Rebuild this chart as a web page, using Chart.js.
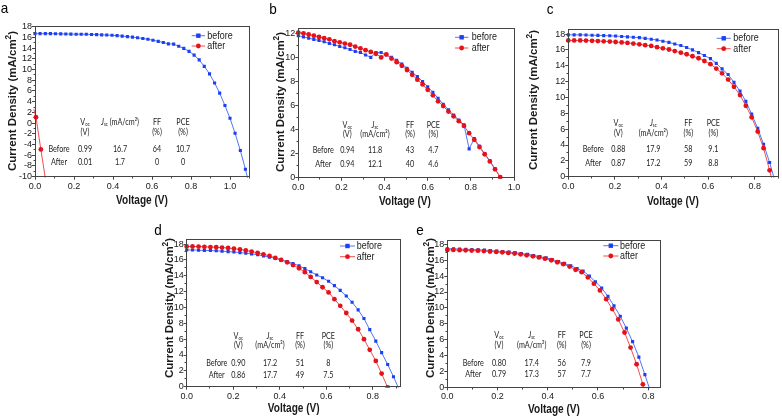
<!DOCTYPE html>
<html>
<head>
<meta charset="utf-8">
<script src="https://cdn.jsdelivr.net/npm/chart.js@4.4.1/dist/chart.umd.min.js"></script>
<style>
  html, body { margin: 0; padding: 0; background: #fff; }
  #wrap { position: relative; width: 782px; height: 417px; }
  #wrap canvas { position: absolute; left: 0; top: 0; }
</style>
</head>
<body>
<div id="wrap">
  <canvas id="pa" width="782" height="417"></canvas>
  <canvas id="pb" width="782" height="417"></canvas>
  <canvas id="pc" width="782" height="417"></canvas>
  <canvas id="pd" width="782" height="417"></canvas>
  <canvas id="pe" width="782" height="417"></canvas>
</div>
<script>
// === Datos ===
// (a)
const voltA_before = [0, 0.026, 0.053, 0.079, 0.105, 0.132, 0.158, 0.184, 0.211, 0.237, 0.263, 0.29, 0.316, 0.342, 0.368, 0.395, 0.421, 0.447, 0.474, 0.5, 0.526, 0.553, 0.579, 0.605, 0.632, 0.658, 0.684, 0.711, 0.737, 0.763, 0.79, 0.816, 0.842, 0.868, 0.895, 0.921, 0.947, 0.974, 1.0, 1.026, 1.053, 1.079, 1.105];
const jA_before = [16.7, 16.7, 16.7, 16.7, 16.68, 16.66, 16.64, 16.62, 16.6, 16.6, 16.58, 16.55, 16.52, 16.48, 16.44, 16.4, 16.33, 16.25, 16.15, 16.05, 15.93, 15.8, 15.65, 15.47, 15.27, 15.05, 14.8, 14.75, 14.35, 13.95, 13.4, 12.7, 11.8, 10.6, 9.2, 7.5, 5.6, 3.3, 0.9, -1.9, -5.1, -8.6, -12.4];
const voltA_after = [-0.006, 0.005, 0.03, 0.056];
const jA_after = [2.6, 1.1, -4.9, -11.0];
const tableA = [["0.99", "16.7", "64", "10.7"], ["0.01", "1.7", "0", "0"]];

// (b)
const voltB = [0, 0.024, 0.048, 0.072, 0.096, 0.12, 0.144, 0.168, 0.192, 0.216, 0.24, 0.264, 0.288, 0.312, 0.336, 0.36, 0.384, 0.408, 0.432, 0.456, 0.48, 0.504, 0.528, 0.552, 0.576, 0.6, 0.624, 0.648, 0.672, 0.696, 0.72, 0.744, 0.768, 0.792, 0.816, 0.84, 0.864, 0.888, 0.912, 0.936];
const jB_before = [11.8, 11.7, 11.6, 11.5, 11.4, 11.3, 11.15, 11.05, 10.9, 10.8, 10.65, 10.5, 10.4, 10.2, 10.0, 10.4, 10.4, 10.2, 10.0, 9.75, 9.45, 9.1, 8.75, 8.4, 8.0, 7.55, 7.1, 6.6, 6.1, 5.65, 5.2, 4.8, 4.4, 2.4, 3.25, 2.6, 2.0, 1.4, 0.75, 0.05];
const jB_after = [12.05, 12.0, 11.9, 11.8, 11.7, 11.6, 11.5, 11.35, 11.25, 11.15, 11.05, 10.9, 10.75, 10.6, 10.45, 10.3, 10.0, 10.25, 9.9, 9.6, 9.3, 8.95, 8.55, 8.15, 7.75, 7.3, 6.85, 6.35, 5.95, 5.5, 5.1, 4.7, 4.3, 3.7, 3.15, 2.55, 1.95, 1.35, 0.7, 0.05];
const tableB = [["0.94", "11.8", "43", "4.7"], ["0.94", "12.1", "40", "4.6"]];

// (c)
const voltC = [0, 0.025, 0.051, 0.076, 0.102, 0.127, 0.152, 0.178, 0.203, 0.229, 0.254, 0.279, 0.305, 0.33, 0.356, 0.381, 0.406, 0.432, 0.457, 0.483, 0.508, 0.533, 0.559, 0.584, 0.61, 0.635, 0.66, 0.686, 0.711, 0.737, 0.762, 0.787, 0.813, 0.838, 0.864, 0.889];
const jC_before = [17.9, 17.9, 17.9, 17.88, 17.85, 17.83, 17.8, 17.78, 17.75, 17.7, 17.65, 17.6, 17.55, 17.45, 17.35, 17.25, 17.1, 16.95, 16.75, 16.55, 16.3, 16.0, 15.65, 15.3, 14.9, 14.3, 13.6, 12.9, 11.9, 10.8, 9.5, 7.9, 6.1, 4.1, 1.8, -0.8];
const jC_after = [17.2, 17.2, 17.2, 17.18, 17.15, 17.12, 17.08, 17.05, 17.0, 16.95, 16.88, 16.8, 16.7, 16.6, 16.5, 16.35, 16.2, 16.05, 15.85, 15.65, 15.45, 15.2, 14.95, 14.6, 14.2, 13.65, 13.05, 12.25, 11.35, 10.3, 8.95, 7.5, 5.7, 3.6, 0.8, -2.2];
const tableC = [["0.88", "17.9", "58", "9.1"], ["0.87", "17.2", "59", "8.8"]];

// (d)
const voltD_before = [0, 0.025, 0.051, 0.076, 0.102, 0.127, 0.152, 0.178, 0.203, 0.229, 0.254, 0.279, 0.305, 0.33, 0.356, 0.381, 0.406, 0.432, 0.457, 0.483, 0.508, 0.533, 0.559, 0.584, 0.61, 0.635, 0.66, 0.686, 0.711, 0.737, 0.762, 0.787, 0.813, 0.838, 0.864, 0.889, 0.914];
const jD_before = [17.25, 17.25, 17.22, 17.2, 17.18, 17.15, 17.1, 17.05, 17.0, 16.92, 16.85, 16.75, 16.65, 16.5, 16.35, 16.2, 16.0, 15.8, 15.55, 15.25, 14.9, 14.5, 14.1, 13.75, 13.3, 12.75, 12.15, 11.45, 10.65, 9.7, 8.6, 7.2, 5.75, 4.3, 2.8, 1.25, -0.4];
const voltD_after = [0, 0.025, 0.051, 0.076, 0.102, 0.127, 0.152, 0.178, 0.203, 0.229, 0.254, 0.279, 0.305, 0.33, 0.356, 0.381, 0.406, 0.432, 0.457, 0.483, 0.508, 0.533, 0.559, 0.584, 0.61, 0.635, 0.66, 0.686, 0.711, 0.737, 0.762, 0.787, 0.813, 0.838, 0.864];
const jD_after = [17.7, 17.7, 17.68, 17.65, 17.62, 17.6, 17.55, 17.5, 17.42, 17.32, 17.2, 17.05, 16.88, 16.7, 16.5, 16.25, 16.0, 15.7, 15.35, 14.95, 14.45, 13.85, 13.2, 12.55, 11.9, 11.05, 10.2, 9.3, 8.35, 7.25, 6.0, 4.65, 3.25, 1.65, -0.1];
const tableD = [["0.90", "17.2", "51", "8"], ["0.86", "17.7", "49", "7.5"]];

// (e)
const voltE_before = [0, 0.025, 0.049, 0.074, 0.098, 0.123, 0.148, 0.172, 0.197, 0.221, 0.246, 0.271, 0.295, 0.32, 0.344, 0.369, 0.394, 0.418, 0.443, 0.467, 0.492, 0.517, 0.541, 0.566, 0.59, 0.615, 0.64, 0.664, 0.689, 0.713, 0.738, 0.763, 0.787, 0.812];
const jE_before = [17.45, 17.45, 17.4, 17.38, 17.35, 17.32, 17.28, 17.22, 17.15, 17.1, 17.02, 16.95, 16.85, 16.75, 16.6, 16.45, 16.3, 16.1, 15.85, 15.6, 15.3, 14.95, 14.65, 14.0, 13.3, 12.5, 11.45, 10.25, 8.95, 7.45, 5.75, 3.8, 1.6, -0.8];
const voltE_after = [0, 0.024, 0.049, 0.073, 0.097, 0.122, 0.146, 0.17, 0.195, 0.219, 0.243, 0.268, 0.292, 0.316, 0.341, 0.365, 0.389, 0.414, 0.438, 0.462, 0.487, 0.511, 0.535, 0.56, 0.584, 0.608, 0.633, 0.657, 0.681, 0.706, 0.73, 0.754, 0.779, 0.803];
const jE_after = [17.3, 17.3, 17.27, 17.25, 17.22, 17.2, 17.15, 17.1, 17.05, 17.0, 16.92, 16.85, 16.75, 16.62, 16.5, 16.35, 16.2, 16.0, 15.75, 15.5, 15.2, 14.8, 14.5, 13.85, 13.05, 12.2, 11.1, 9.85, 8.55, 6.9, 5.0, 2.9, 0.38, -2.3];
const tableE = [["0.80", "17.4", "56", "7.9"], ["0.79", "17.3", "57", "7.7"]];

const rowNames = ["Before", "After"];
const legendNames = ["before", "after"];

// === Estilos ===
const W = 782, H = 417;
const Y_W = 32, X_H = 22;
const AXIS = "#444";
const INK = "#1a1a1a";
const BLUE_LINE = "#4f76ff", BLUE_DOT = "#1d3ff0";
const RED_LINE = "#f44d4d", RED_DOT = "#e3121b";
const SANS = "'Liberation Sans', Arial, sans-serif";
const TABLE_FONT = "Lato, 'Open Sans', sans-serif";

// === Paneles (posiciones en pixeles de la pagina) ===
const panels = [
  { id: "pa", letter: "a", letterPos: [4.5, 13.3], area: { l: 35, t: 26.7, r: 249.5, b: 176.7 },
    x: [0, 1.1], y: [-10, 18],
    series: [[voltA_before, jA_before], [voltA_after, jA_after]], table: tableA,
    yTitle: [12.8, 101], xTitle: [142, 200.5], jscOneLine: true,
    cols: [59, 85, 120, 157, 183], rows: [122, 132, 149, 162],
    legend: { x1: 191.7, x2: 205, tx: 207.3, y: [35.7, 46] } },
  { id: "pb", letter: "b", letterPos: [273, 14], area: { l: 298.3, t: 28.5, r: 514, b: 177.7 },
    x: [0, 1.0], y: [0, 12.4],
    series: [[voltB, jB_before], [voltB, jB_after]], table: tableB,
    yTitle: [281, 102], xTitle: [405, 201.5],
    cols: [323.3, 347.3, 375, 410, 433.3], rows: [125, 134.3, 150, 164],
    legend: { x1: 455, x2: 468.3, tx: 471.7, y: [37.3, 48] } },
  { id: "pc", letter: "c", letterPos: [550, 14], area: { l: 568.3, t: 29.3, r: 779.3, b: 176.7 },
    x: [0, 0.9], y: [0, 18.6],
    series: [[voltC, jC_before], [voltC, jC_after]], table: tableC,
    yTitle: [533.5, 100], xTitle: [673, 201.5],
    cols: [593.3, 618.3, 653.3, 688.3, 713.3], rows: [122.7, 132.7, 149.3, 163.3],
    legend: { x1: 716.7, x2: 730.7, tx: 733.3, y: [38.3, 48.7] } },
  { id: "pd", letter: "d", letterPos: [158, 235], area: { l: 186.7, t: 239.3, r: 400.7, b: 386.7 },
    x: [0, 0.92], y: [0, 18.6],
    series: [[voltD_before, jD_before], [voltD_after, jD_after]], table: tableD,
    yTitle: [169.5, 308], xTitle: [293.7, 409],
    cols: [216.7, 238.3, 270, 300, 328.3], rows: [336, 345, 363.3, 375],
    legend: { x1: 340, x2: 355, tx: 356.7, y: [246, 256.7] } },
  { id: "pe", letter: "e", letterPos: [420, 235], area: { l: 447.3, t: 240, r: 660.7, b: 387.3 },
    x: [0, 0.85], y: [0, 18.55],
    series: [[voltE_before, jE_before], [voltE_after, jE_after]], table: tableE,
    yTitle: [430.5, 308], xTitle: [554, 409.5],
    cols: [473.3, 499, 531.7, 561.7, 586], rows: [335, 345, 362.7, 374.3],
    legend: { x1: 603.3, x2: 618.3, tx: 620, y: [245.7, 256] } }
];

const X_STEP = 0.2, Y_STEP = 2;

function pts(xs, ys) {
  return xs.map((x, i) => ({ x: x, y: ys[i] }));
}

function align(v) {
  return Math.round(v - 0.5) + 0.5;
}

// texto con partes (subindices / superindices)
function rich(ctx, parts, x, y, o) {
  ctx.save();
  ctx.translate(x, y);
  if (o.rot) ctx.rotate(o.rot);
  ctx.scale(o.sx || 1, 1);
  ctx.fillStyle = o.color || INK;
  ctx.textBaseline = o.baseline || "middle";
  ctx.textAlign = "left";
  const fontOf = p => (p[3] ? "italic " : "") + (o.bold ? "bold " : "") + (o.size * (p[1] || 1)) + "px " + o.family;
  let w = 0;
  parts.forEach(p => { ctx.font = fontOf(p); w += ctx.measureText(p[0]).width; });
  let cx = o.align === "left" ? 0 : -w / 2;
  parts.forEach(p => {
    ctx.font = fontOf(p);
    ctx.fillText(p[0], cx, (p[2] || 0) * o.size);
    cx += ctx.measureText(p[0]).width;
  });
  ctx.restore();
}

function marker(ctx, i, x, y) {
  if (i === 0) {
    ctx.fillStyle = BLUE_DOT;
    ctx.fillRect(x - 2.2, y - 2.2, 4.4, 4.4);
  } else {
    ctx.fillStyle = RED_DOT;
    ctx.beginPath();
    ctx.arc(x, y, 2.4, 0, Math.PI * 2);
    ctx.fill();
  }
}

function makeDecor(p) {
  return {
    id: "decor",
    afterDraw(chart) {
      const ctx = chart.ctx;
      const a = chart.chartArea;
      const xs = chart.scales.x, ys = chart.scales.y;
      ctx.save();

      // marco completo
      ctx.strokeStyle = AXIS;
      ctx.lineWidth = 1;
      const L = align(a.left), R = align(a.right), T = align(a.top), B = align(a.bottom);
      ctx.strokeRect(L, T, R - L, B - T);

      // ticks menores
      ctx.beginPath();
      for (let v = p.x[0] + X_STEP / 2; v < p.x[1]; v += X_STEP) {
        const px = align(xs.getPixelForValue(v));
        ctx.moveTo(px, B); ctx.lineTo(px, B + 2);
      }
      for (let v = p.y[0] + Y_STEP / 2; v < p.y[1]; v += Y_STEP) {
        const py = align(ys.getPixelForValue(v));
        ctx.moveTo(L - 2, py); ctx.lineTo(L, py);
      }
      ctx.stroke();

      // titulos
      rich(ctx, [["Current Density (mA/cm"], ["2", 0.72, -0.33], [")"]], p.yTitle[0], p.yTitle[1],
        { size: 11.5, bold: true, family: SANS, rot: -Math.PI / 2 });
      rich(ctx, [["Voltage (V)"]], p.xTitle[0], p.xTitle[1], { size: 12, bold: true, family: SANS, sx: 0.84 });
      rich(ctx, [[p.letter]], p.letterPos[0], p.letterPos[1], { size: 15, family: SANS, sx: 0.9, baseline: "alphabetic", color: "#000" });

      // leyenda
      const lg = p.legend;
      [BLUE_LINE, RED_LINE].forEach((col, i) => {
        const y = lg.y[i];
        ctx.strokeStyle = col;
        ctx.lineWidth = 1;
        ctx.beginPath();
        ctx.moveTo(lg.x1, y); ctx.lineTo(lg.x2, y);
        ctx.stroke();
        marker(ctx, i, (lg.x1 + lg.x2) / 2, y);
        rich(ctx, [[legendNames[i]]], lg.tx, y, { size: 10.5, family: SANS, sx: 0.85, align: "left" });
      });

      // tabla
      const tf = { size: 9, family: TABLE_FONT, sx: 0.8, color: "#222" };
      const c = p.cols, r = p.rows;
      rich(ctx, [["V"], ["oc", 0.6, 0.3]], c[1], r[0], tf);
      if (p.jscOneLine) {
        rich(ctx, [["J", 1, 0, true], ["sc", 0.6, 0.3], [" (mA/cm²)"]], c[2], r[0], tf);
      } else {
        rich(ctx, [["J", 1, 0, true], ["sc", 0.6, 0.3]], c[2], r[0], tf);
        rich(ctx, [["(mA/cm²)"]], c[2], r[1], tf);
      }
      rich(ctx, [["FF"]], c[3], r[0], tf);
      rich(ctx, [["PCE"]], c[4], r[0], tf);
      rich(ctx, [["(V)"]], c[1], r[1], tf);
      rich(ctx, [["(%)"]], c[3], r[1], tf);
      rich(ctx, [["(%)"]], c[4], r[1], tf);
      p.table.forEach((row, i) => {
        rich(ctx, [[rowNames[i]]], c[0], r[2 + i], tf);
        row.forEach((val, j) => rich(ctx, [[val]], c[1 + j], r[2 + i], tf));
      });

      ctx.restore();
    }
  };
}

function axisOpts(min, max, step, fmt, fit, pad) {
  return {
    type: "linear",
    min: min,
    max: max,
    afterFit: fit,
    ticks: {
      stepSize: step,
      includeBounds: false,
      autoSkip: false,
      maxRotation: 0,
      padding: pad,
      color: INK,
      font: { family: SANS, size: 9 },
      callback: fmt
    },
    grid: { drawOnChartArea: false, drawTicks: true, tickLength: 3, color: AXIS, lineWidth: 1 },
    border: { display: true, color: AXIS, width: 1 }
  };
}

panels.forEach(p => {
  const a = p.area;
  const sets = p.series.map((s, i) => ({
    data: pts(s[0], s[1]),
    showLine: true,
    borderColor: i === 0 ? BLUE_LINE : RED_LINE,
    borderWidth: 1,
    pointStyle: i === 0 ? "rect" : "circle",
    pointRadius: ctx => (ctx.raw && ctx.raw.x < 0 ? 0 : (i === 0 ? 2.2 : 2.4)),
    pointBackgroundColor: i === 0 ? BLUE_DOT : RED_DOT,
    pointBorderWidth: 0,
    tension: 0,
    clip: { left: 3, right: 3, top: 3, bottom: 1 },
    order: i === 0 ? 1 : 0
  }));

  new Chart(document.getElementById(p.id), {
    type: "scatter",
    data: { datasets: sets },
    options: {
      responsive: false,
      animation: false,
      events: [],
      layout: {
        padding: { left: a.l - Y_W, top: a.t, right: W - a.r, bottom: H - a.b - X_H }
      },
      plugins: { legend: { display: false }, tooltip: { enabled: false } },
      scales: {
        x: axisOpts(p.x[0], p.x[1], X_STEP, v => Number(v).toFixed(1), s => { s.height = X_H; }, 1),
        y: axisOpts(p.y[0], p.y[1], Y_STEP, v => String(Math.round(v)), s => { s.width = Y_W; }, 0)
      }
    },
    plugins: [makeDecor(p)]
  });
});
</script>
</body>
</html>
